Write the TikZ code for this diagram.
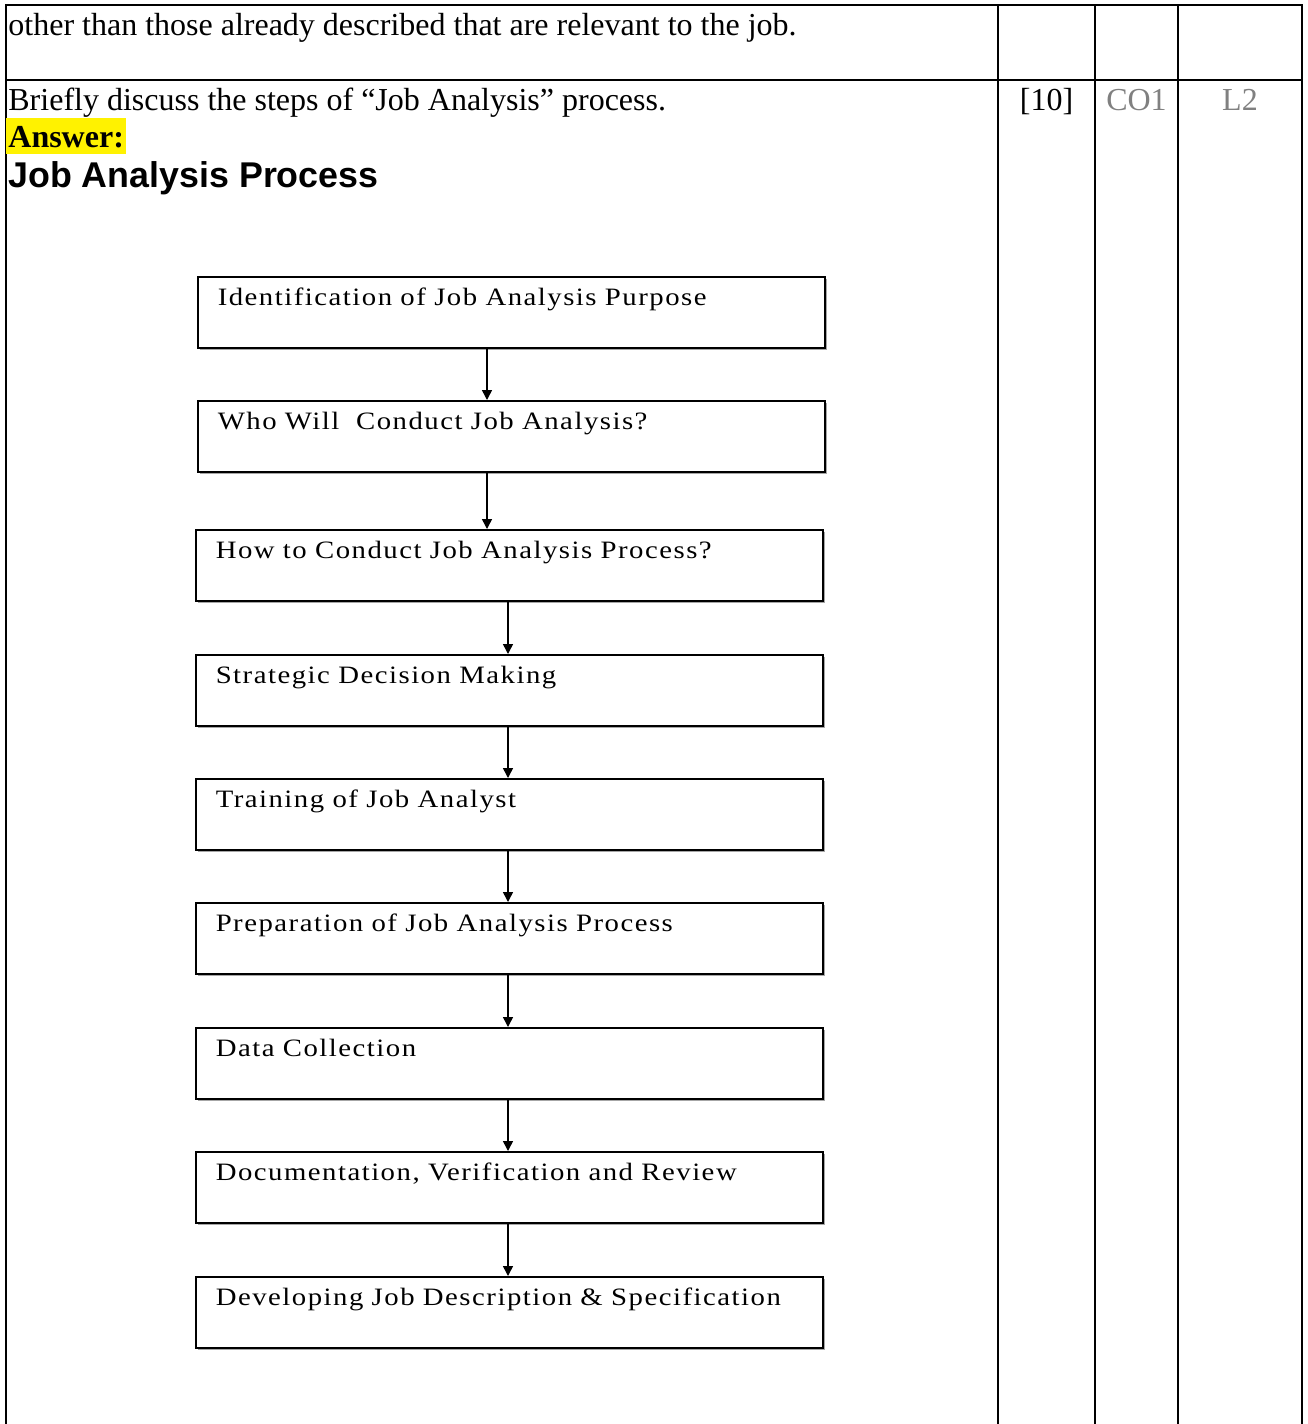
\documentclass[tikz,border=0pt]{standalone}
\usepackage{fontspec}
\setmainfont{Liberation Serif}
\setsansfont{Liberation Sans}
\newfontfamily\stepfont[LetterSpace=6,FakeStretch=1.15]{Liberation Serif}
\usetikzlibrary{arrows.meta,shadows}

\begin{document}
\begin{tikzpicture}[x=0.5pt,y=-0.5pt,
  rule/.style={line width=1pt},
  body/.style={anchor=base west,inner sep=0pt,font=\fontsize{16}{19}\selectfont},
  cell/.style={anchor=base,inner sep=0pt,font=\fontsize{16}{19}\selectfont},
  stepbox/.style={draw,line width=0.75pt,fill=white,anchor=north west,
    text width=293.5pt,align=left,inner xsep=10pt,inner ysep=0pt,
    text height=14.5pt,text depth=21pt,font=\stepfont\fontsize{12.5}{15}\selectfont,
    drop shadow={shadow xshift=1pt,shadow yshift=-1pt,fill=gray!70,opacity=1}},
  flow/.style={-{Triangle[length=5pt,width=5pt]},line width=0.75pt}]
  \useasboundingbox (0,0) rectangle (1307,1424);

  \draw[rule] (6,1424) -- (6,5) -- (1302,5) -- (1302,1424);
  \draw[rule] (6,80) -- (1302,80);
  \foreach \x in {998,1095,1178}
    \draw[rule] (\x,5) -- (\x,1424);

  \node[body] (prev) at (8,35) {other than those already described that are relevant to the job.};
  \node[body] (quest) at (8,110) {Briefly discuss the steps of “Job Analysis” process.};
  \node[body,fill=yellow,inner xsep=1pt,text height=14.5pt,text depth=3.5pt,font=\bfseries\fontsize{16}{19}\selectfont] (ans) at (6,147) {Answer:};
  \node[body,font=\sffamily\bfseries\fontsize{17.9}{21}\selectfont] (head) at (8,187) {Job Analysis Process};

  \node[cell] (marks) at (1046.5,110) {[10]};
  \node[cell,gray] (co) at (1136.5,110) {CO1};
  \node[cell,gray] (lvl) at (1240,110) {L2};

  \foreach \i/\x/\y/\lab in {
    1/197/276/Identification of Job Analysis Purpose,
    2/197/400/Who Will\ \ Conduct Job Analysis?,
    3/195/529/How to Conduct Job Analysis Process?,
    4/195/654/Strategic Decision Making,
    5/195/778/Training of Job Analyst,
    6/195/902/Preparation of Job Analysis Process,
    7/195/1027/Data Collection,
    8/195/1151/{Documentation, Verification and Review},
    9/195/1276/Developing Job Description \& Specification
  }
    \node[stepbox] (s\i) at (\x,\y) {\lab};

  \foreach \a/\b/\x in {1/2/487,2/3/487,3/4/508,4/5/508,5/6/508,6/7/508,7/8/508,8/9/508}
    \draw[flow] (s\a.south -| \x,0) -- (s\b.north -| \x,0);
\end{tikzpicture}
\end{document}
